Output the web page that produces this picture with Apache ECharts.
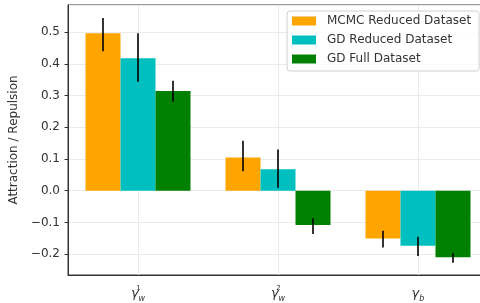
<!DOCTYPE html>
<html>
<head>
<meta charset="utf-8">
<script src="https://cdn.jsdelivr.net/npm/echarts@6/dist/echarts.min.js"></script>
<style>
  html, body { margin: 0; padding: 0; background: #fff; }
  #chart { width: 480px; height: 303px; }
</style>
</head>
<body>
<div id="chart"></div>
<script>
// tick labels (rich text: gamma with sub/superscripts)
const categories = ['{g|γ}{sup|1}{sub|w}', '{g|γ}{sup|2}{sub|w}', '{g|γ}{sub|b}'];
const seriesNames = ['MCMC Reduced Dataset', 'GD Reduced Dataset', 'GD Full Dataset'];

// bar heights
const mcmc = [0.497, 0.105, -0.151];
const gdReduced = [0.418, 0.068, -0.174];
const gdFull = [0.315, -0.108, -0.210];

// error bars [low, high]
const mcmcErr = [[0.440, 0.545], [0.061, 0.158], [-0.179, -0.126]];
const gdReducedErr = [[0.344, 0.497], [0.009, 0.130], [-0.206, -0.145]];
const gdFullErr = [[0.281, 0.347], [-0.137, -0.087], [-0.227, -0.197]];

const colors = ['#FFA500', '#00BFBF', '#008000'];

const chart = echarts.init(document.getElementById('chart'), null, { renderer: 'canvas' });

// error bar data: [category index, low, high, series slot]
const errData = [];
[mcmcErr, gdReducedErr, gdFullErr].forEach(function (errs, s) {
  errs.forEach(function (e, i) {
    errData.push([i, e[0], e[1], s]);
  });
});

function renderErr(params, api) {
  const band = api.size([1, 0])[0];
  const off = (api.value(3) - 1) * band / 4;
  const lo = api.coord([api.value(0), api.value(1)]);
  const hi = api.coord([api.value(0), api.value(2)]);
  return {
    type: 'line',
    shape: { x1: lo[0] + off, y1: lo[1], x2: hi[0] + off, y2: hi[1] },
    style: { stroke: 'rgba(0,0,0,0.8)', lineWidth: 2 }
  };
}

const txt = '#333';

const option = {
  backgroundColor: '#ffffff',
  animation: false,
  textStyle: { fontFamily: 'DejaVu Sans' },
  grid: {
    left: 68, top: 5, right: -8, bottom: 28,
    outerBoundsMode: 'none',
    containLabel: false,
    show: true, borderColor: '#333', borderWidth: 1, backgroundColor: '#fff'
  },
  legend: {
    orient: 'vertical',
    left: 287, top: 11,
    padding: [3, 8, 5, 5],
    itemWidth: 24, itemHeight: 9, itemGap: 5,
    borderColor: '#d0d0d0', borderWidth: 1, borderRadius: 3,
    backgroundColor: 'rgba(255,255,255,0.85)',
    icon: 'rect',
    textStyle: { fontSize: 12, color: txt, lineHeight: 14, padding: [0, 0, 0, 6], fontFamily: 'DejaVu Sans' },
    data: seriesNames
  },
  xAxis: [{
    type: 'category',
    data: categories,
    axisLine: { onZero: false, lineStyle: { color: '#333', width: 1 } },
    axisTick: { alignWithLabel: true, length: 3.5, lineStyle: { color: '#333' } },
    splitLine: { show: false },
    axisLabel: {
      interval: 0,
      margin: 10,
      color: txt,
      rich: {
        g: { fontSize: 13, fontStyle: 'italic', lineHeight: 18, color: txt, fontFamily: 'DejaVu Sans' },
        sup: { fontSize: 7, lineHeight: 9, verticalAlign: 'top', width: 0, color: txt, fontFamily: 'DejaVu Sans' },
        sub: { fontSize: 8, fontStyle: 'italic', lineHeight: 9, verticalAlign: 'bottom', color: txt, fontFamily: 'DejaVu Sans' }
      }
    }
  }, {
    // hidden helper axis: vertical grid lines at category centres
    type: 'value',
    position: 'bottom',
    min: -0.5,
    max: 2.5,
    splitNumber: 3,
    axisLine: { show: false, onZero: false },
    axisTick: { show: false },
    axisLabel: { show: false },
    splitLine: { show: true, lineStyle: { color: '#ebebeb' } }
  }],
  yAxis: {
    type: 'value',
    min: -0.266,
    max: 0.586,
    splitNumber: 9,
    name: 'Attraction / Repulsion',
    nameLocation: 'middle',
    nameGap: 45,
    nameTextStyle: { fontSize: 12, color: txt, fontFamily: 'DejaVu Sans' },
    axisLine: { show: true, onZero: false, lineStyle: { color: '#333', width: 1 } },
    axisTick: { show: true, length: 3.5, lineStyle: { color: '#333' } },
    splitLine: { show: true, lineStyle: { color: '#ebebeb' } },
    axisLabel: {
      fontSize: 12, color: txt, margin: 8,
      showMinLabel: false, showMaxLabel: false,
      formatter: function (v) { return v.toFixed(1).replace('-', '\u2212'); }
    }
  },
  series: [
    { name: seriesNames[0], type: 'bar', data: mcmc, itemStyle: { color: colors[0] }, barGap: '0%', barCategoryGap: '25%' },
    { name: seriesNames[1], type: 'bar', data: gdReduced, itemStyle: { color: colors[1] }, barGap: '0%', barCategoryGap: '25%' },
    { name: seriesNames[2], type: 'bar', data: gdFull, itemStyle: { color: colors[2] }, barGap: '0%', barCategoryGap: '25%' },
    { type: 'custom', data: errData, renderItem: renderErr, z: 10, silent: true, encode: { x: 0, y: [1, 2] } }
  ]
};

chart.setOption(option);
</script>
</body>
</html>
